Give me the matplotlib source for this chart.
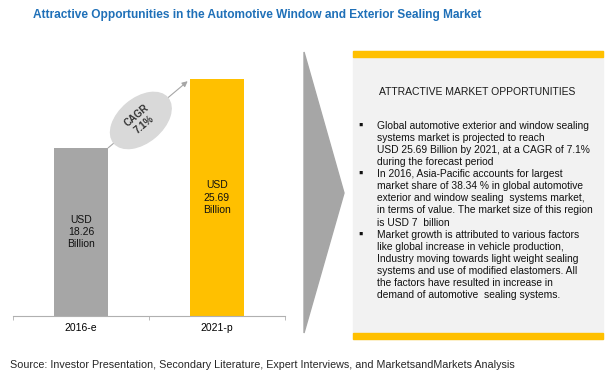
import numpy as np
import matplotlib.pyplot as plt
from matplotlib.patches import Ellipse, Polygon, Rectangle

plt.rcParams['font.family'] = ['Liberation Sans', 'DejaVu Sans']

years = ['2016-e', '2021-p']
values = [18.26, 25.69]
bar_labels = ['USD\n18.26\nBillion', 'USD\n25.69\nBillion']
bar_colors = ['#a6a6a6', '#ffc000']
cagr = 'CAGR\n7.1%'

title = 'Attractive Opportunities in the Automotive Window and Exterior Sealing Market'
box_title = 'ATTRACTIVE MARKET OPPORTUNITIES'
bullets = [
    ['Global automotive exterior and window sealing',
     'systems market is projected to reach',
     'USD 25.69 Billion by 2021, at a CAGR of 7.1%',
     'during the forecast period'],
    ['In 2016, Asia-Pacific accounts for largest',
     'market share of 38.34 % in global automotive',
     'exterior and window sealing  systems market,',
     'in terms of value. The market size of this region',
     'is USD 7  billion'],
    ['Market growth is attributed to various factors',
     'like global increase in vehicle production,',
     'Industry moving towards light weight sealing',
     'systems and use of modified elastomers. All',
     'the factors have resulted in increase in',
     'demand of automotive  sealing systems.'],
]
source = ('Source: Investor Presentation, Secondary Literature, Expert Interviews, '
          'and MarketsandMarkets Analysis')

W, H = 615, 381
fig = plt.figure(figsize=(W / 100, H / 100), dpi=100)
renderer = fig.canvas.get_renderer()


def fit(t, width_px):
    # shrink/grow a text so it spans roughly width_px
    w = t.get_window_extent(renderer).width
    t.set_fontsize(t.get_fontsize() * width_px / w)
    return t


# bar chart, placed in pixel terms
scale = 9.21  # px per billion
ax = fig.add_axes([13 / W, (H - 316) / H, (285 - 13) / W, 266 / H])
x = np.arange(len(values))
ax.bar(x, values, width=0.4, color=bar_colors, zorder=2)
ax.set_xlim(-0.5, 1.5)
ax.set_ylim(0, 266 / scale)
for i, v in enumerate(values):
    ax.text(i, v / 2, bar_labels[i], ha='center', va='center', fontsize=7.5,
            linespacing=1.3, color='#111111')
for s in ['top', 'right', 'left']:
    ax.spines[s].set_visible(False)
ax.spines['bottom'].set_color('#b0b0b0')
ax.set_yticks([])
ax.set_xticks(x)
ax.set_xticklabels(years, fontsize=7.5)
ax.tick_params(axis='x', which='major', length=0, pad=5)
ax.set_xticks([-0.5, 0.5, 1.5], minor=True)
ax.tick_params(axis='x', which='minor', length=3, color='#b0b0b0')
ax.patch.set_alpha(0)

ax.annotate('', xy=(1 - 0.2, values[1]), xytext=(0 + 0.2, values[0]),
            arrowprops=dict(arrowstyle='-|>', color='#a6a6a6', lw=0.8,
                            mutation_scale=8, shrinkA=0, shrinkB=2),
            annotation_clip=False, zorder=3)

# overlay in pixel coordinates
ov = fig.add_axes([0, 0, 1, 1])
ov.set_xlim(0, W)
ov.set_ylim(H, 0)
ov.axis('off')

p0 = ax.transData.transform((0.2, values[0]))
p1 = ax.transData.transform((0.8, values[1]))
q0, q1 = ov.transData.inverted().transform([p0, p1])
c = q0 + 0.4 * (q1 - q0)
ang = np.degrees(np.arctan2(-(q1[1] - q0[1]), q1[0] - q0[0]))
ov.add_patch(Ellipse(c, 70, 44, angle=-ang, color='#d9d9d9', zorder=4))
ov.text(c[0], c[1], cagr, rotation=ang, ha='center', va='center', fontsize=7,
        color='#333333', fontweight='bold', linespacing=1.2, zorder=5,
        rotation_mode='anchor')

fit(ov.text(257, 15, title, ha='center', va='center', fontsize=10,
            fontweight='bold', color='#1f70b8'), 451)

ov.add_patch(Polygon([(304, 52), (344, 193), (304, 333)], closed=True,
                     color='#a6a6a6'))

ov.add_patch(Rectangle((353, 51), 250, 288, color='#f2f2f2', zorder=1))
ov.add_patch(Rectangle((353, 51), 250, 6, color='#ffc000', zorder=2))
ov.add_patch(Rectangle((353, 333), 250, 6, color='#ffc000', zorder=2))
fit(ov.text(477, 92, box_title, ha='center', va='center', fontsize=9,
            color='#1a1a1a', zorder=3), 196)

probe = ov.text(0, 0, bullets[1][3], fontsize=8)
fit(probe, 216)
bsize = probe.get_fontsize()
probe.remove()

row = 0
for b in bullets:
    ov.text(361, 126 + row * 12.07, '\u25aa', ha='center', va='center',
            fontsize=9, color='#111111', zorder=3)
    for line in b:
        ov.text(377, 126 + row * 12.07, line, ha='left', va='center',
                fontsize=bsize, color='#111111', zorder=3)
        row += 1

fit(ov.text(10, 365, source, ha='left', va='center', fontsize=8.5,
            color='#262626'), 497)

fig.savefig('out.png', dpi=100)
